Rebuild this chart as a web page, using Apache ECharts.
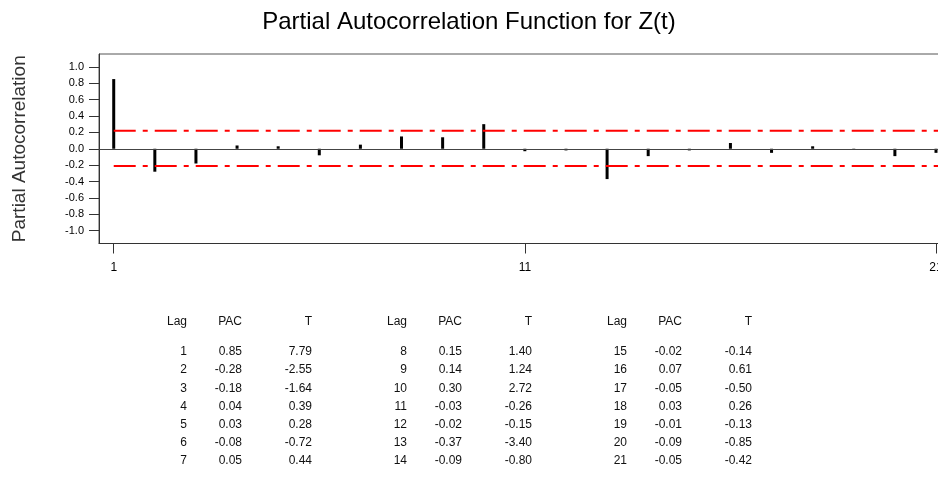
<!DOCTYPE html>
<html>
<head>
<meta charset="utf-8">
<script src="https://cdn.jsdelivr.net/npm/echarts@6/dist/echarts.min.js"></script>
<style>
  html, body { margin: 0; padding: 0; background: #fff; }
  #chart { width: 938px; height: 488px; }
</style>
</head>
<body>
<div id="chart"></div>
<script>
// ---- data ----
const lags = [1, 2, 3, 4, 5, 6, 7, 8, 9, 10, 11, 12, 13, 14, 15, 16, 17, 18, 19, 20, 21];
const pac = [0.85, -0.28, -0.18, 0.04, 0.03, -0.08, 0.05, 0.15, 0.14, 0.30, -0.03, -0.02, -0.37, -0.09, -0.02, 0.07, -0.05, 0.03, -0.01, -0.09, -0.05];
const tStat = ['7.79', '-2.55', '-1.64', '0.39', '0.28', '-0.72', '0.44', '1.40', '1.24', '2.72', '-0.26', '-0.15', '-3.40', '-0.80', '-0.14', '0.61', '-0.50', '0.26', '-0.13', '-0.85', '-0.42'];
const upperLimit = 0.22;
const lowerLimit = -0.21;
const xTickValues = [1, 11, 21];
const yTickValues = [-1.0, -0.8, -0.6, -0.4, -0.2, 0.0, 0.2, 0.4, 0.6, 0.8, 1.0];
const tableHeaders = ['Lag', 'PAC', 'T'];
const rowsPerBlock = 7;

// ---- layout ----
const xMin = 0.642, xMax = 21.073;
const yMin = -1.156, yMax = 1.156;
const font = '"Liberation Sans", Arial, Helvetica, sans-serif';

const chart = echarts.init(document.getElementById('chart'), null, { renderer: 'canvas' });

// table graphics
const graphics = [];
const colRight = [187, 242, 312];
const blockOffset = 220;
const headerY = 322;
const rowY0 = 352;
const rowStep = 18.15;
const nBlocks = Math.ceil(lags.length / rowsPerBlock);
for (let b = 0; b < nBlocks; b++) {
  tableHeaders.forEach((h, c) => {
    graphics.push({
      type: 'text',
      x: colRight[c] + b * blockOffset,
      y: headerY,
      style: { text: h, fill: '#111', font: '12px ' + font, textAlign: 'right', textVerticalAlign: 'middle' }
    });
  });
  for (let r = 0; r < rowsPerBlock; r++) {
    const i = b * rowsPerBlock + r;
    if (i >= lags.length) break;
    const vals = [String(lags[i]), pac[i].toFixed(2), tStat[i]];
    vals.forEach((v, c) => {
      graphics.push({
        type: 'text',
        x: colRight[c] + b * blockOffset,
        y: rowY0 + r * rowStep,
        style: { text: v, fill: '#111', font: '12px ' + font, textAlign: 'right', textVerticalAlign: 'middle' }
      });
    });
  }
}

const option = {
  animation: false,
  backgroundColor: '#fff',
  title: {
    text: 'Partial Autocorrelation Function for Z(t)',
    left: 'center',
    top: 5,
    textStyle: { fontFamily: font, fontSize: 24, fontWeight: 'normal', color: '#000' }
  },
  grid: {
    left: 99, top: 54, right: -1, bottom: 244.5,
    containLabel: false,
    outerBoundsMode: 'none',
    show: true, borderColor: '#555', borderWidth: 1, backgroundColor: 'transparent'
  },
  xAxis: {
    type: 'value',
    min: xMin, max: xMax,
    axisLine: { show: true, onZero: false, lineStyle: { color: '#333', width: 1 } },
    axisTick: { show: true, customValues: xTickValues, length: 10, lineStyle: { color: '#333' } },
    axisLabel: { customValues: xTickValues, margin: 18, color: '#000', fontFamily: font, fontSize: 12 },
    splitLine: { show: false }
  },
  yAxis: {
    type: 'value',
    min: yMin, max: yMax,
    name: 'Partial Autocorrelation',
    nameLocation: 'middle',
    nameRotate: 90,
    nameGap: 70,
    nameTextStyle: { fontFamily: font, fontSize: 19, color: '#333' },
    axisLine: { show: true, onZero: false, lineStyle: { color: '#333', width: 1 } },
    axisTick: { show: true, customValues: yTickValues, length: 10, lineStyle: { color: '#333' } },
    axisLabel: {
      customValues: yTickValues, margin: 15, color: '#000', fontFamily: font, fontSize: 11,
      formatter: v => v.toFixed(1)
    },
    splitLine: { show: false }
  },
  series: [
    {
      type: 'bar',
      data: lags.map((l, i) => [l, pac[i]]),
      barWidth: 3,
      itemStyle: { color: '#000' },
      z: 3,
      markLine: {
        silent: true,
        symbol: 'none',
        label: { show: false },
        lineStyle: { color: '#444', width: 1, type: 'solid' },
        data: [{ yAxis: 0 }]
      }
    },
    {
      type: 'line',
      data: [[lags[0], upperLimit], [xMax, upperLimit]],
      symbol: 'none',
      lineStyle: { color: '#ff0000', width: 2, type: [22, 7, 5, 7] },
      z: 4
    },
    {
      type: 'line',
      data: [[lags[0], lowerLimit], [xMax, lowerLimit]],
      symbol: 'none',
      lineStyle: { color: '#ff0000', width: 2, type: [22, 7, 5, 7] },
      z: 4
    }
  ],
  graphic: graphics
};
chart.setOption(option);
</script>
</body>
</html>
